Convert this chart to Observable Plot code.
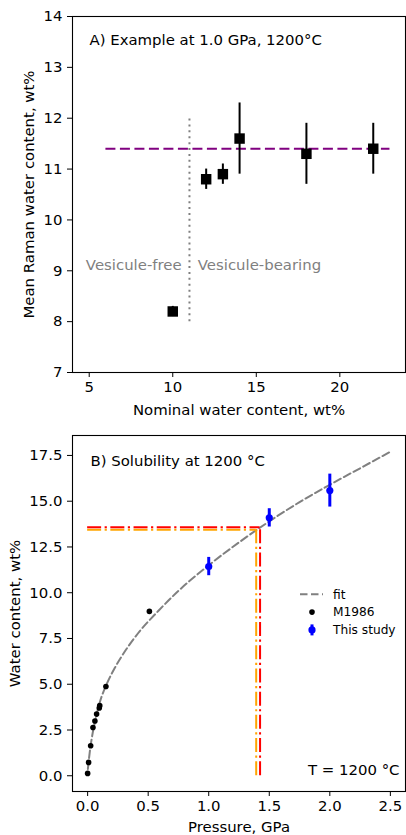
<!DOCTYPE html>
<html><head><meta charset="utf-8">
<script src="https://cdn.jsdelivr.net/npm/d3@7"></script>
<script src="https://cdn.jsdelivr.net/npm/@observablehq/plot@0.6"></script>
<style>
body{margin:0;background:#fff;}
#chart{width:406px;}
#chart svg{display:block;}
</style></head><body><div id="chart"></div>
<script>
// ---------- Panel A data ----------
const nominalWater = [10, 12, 13, 14, 18, 22];
const ramanMean = [8.2, 10.8, 10.9, 11.6, 11.3, 11.4];
const ramanErr = [0.1, 0.2, 0.2, 0.7, 0.6, 0.5];
const meanLevel = [11.4];
const meanLineX = [6, 23];
const boundaryX = [11];
const boundaryY = [8, 12];
const regionLabels = ["Vesicule-free", "Vesicule-bearing"];
const regionLabelX = [4.8, 11.5];
const regionLabelY = [9.1, 9.1];
const xTicksA = [5, 10, 15, 20];
const yTicksA = [7, 8, 9, 10, 11, 12, 13, 14];

// ---------- Panel B data ----------
const m1986P = [0.0, 0.008, 0.025, 0.044, 0.06, 0.074, 0.096, 0.1, 0.151, 0.51];
const m1986W = [0.13, 0.73, 1.64, 2.64, 2.99, 3.37, 3.70, 3.83, 4.88, 8.98];
const studyP = [1.0, 1.5, 2.0];
const studyW = [11.43, 14.09, 15.58];
const studyErr = [0.5, 0.5, 0.9];
const fitP = [0.002, 0.019, 0.038, 0.066, 0.1, 0.157, 0.225, 0.308, 0.418, 0.583, 0.75, 1.0, 1.25, 1.5, 1.75, 2.0, 2.25, 2.5];
const fitW = [0.37, 1.37, 2.2, 3.1, 4.0, 5.0, 5.9, 6.8, 7.8, 9.0, 10.1, 11.5, 12.75, 13.9, 14.95, 15.9, 16.8, 17.7];
const redP = [1.424];
const redW = [13.58];
const orangeP = [1.392];
const orangeW = [13.44];
const xTicksB = [0, 0.5, 1.0, 1.5, 2.0, 2.5];
const yTicksB = [0, 2.5, 5, 7.5, 10, 12.5, 15, 17.5];
const legendLabels = ["fit", "M1986", "This study"];

const FONT = "DejaVu Sans";
const FS = 14.9;
const LEG_FS = 12.2;

const dataA = nominalWater.map((x, i) => ({x, y: ramanMean[i], e: ramanErr[i]}));
const dataM = m1986P.map((p, i) => ({p, w: m1986W[i]}));
const dataS = studyP.map((p, i) => ({p, w: studyW[i], e: studyErr[i]}));
const dataFit = fitP.map((p, i) => ({p, w: fitW[i]}));

const dashDot = "14,3.5,2.2,3.5";
const txt = {fontSize: FS, lineAnchor: "middle", text: d => d};

const plotA = Plot.plot({
  width: 406, height: 420,
  marginTop: 16, marginBottom: 48, marginLeft: 72, marginRight: 1,
  style: {fontFamily: FONT, fontSize: FS + "px", color: "black", background: "white"},
  x: {domain: [4, 23.93]},
  y: {domain: [7, 14]},
  marks: [
    Plot.ruleY(meanLevel, {x1: meanLineX[0], x2: meanLineX[1], stroke: "purple", strokeWidth: 2, strokeDasharray: "10,4.5"}),
    Plot.ruleX(boundaryX, {y1: boundaryY[0], y2: boundaryY[1], stroke: "gray", strokeWidth: 2, strokeDasharray: "2,3.9"}),
    Plot.ruleX(dataA, {x: "x", y1: d => d.y - d.e, y2: d => d.y + d.e, stroke: "black", strokeWidth: 2}),
    Plot.dot(dataA, {x: "x", y: "y", symbol: "square", r: 5.9, fill: "black", stroke: "none"}),
    Plot.text(regionLabels, {...txt, x: (d, i) => regionLabelX[i], y: (d, i) => regionLabelY[i], textAnchor: "start", fill: "gray"}),
    Plot.text(["A) Example at 1.0 GPa, 1200°C"], {...txt, frameAnchor: "top-left", dx: 17, dy: 24, textAnchor: "start"}),
    Plot.axisX({ticks: xTicksA, tickSize: 5, tickPadding: 4, label: null, tickFormat: d => String(d)}),
    Plot.axisY({ticks: yTicksA, tickSize: 5, tickPadding: 5, label: null, tickFormat: d => String(d)}),
    Plot.text(["Nominal water content, wt%"], {...txt, frameAnchor: "bottom", dy: 37.5, textAnchor: "middle"}),
    Plot.text(["Mean Raman water content, wt%"], {...txt, frameAnchor: "left", dx: -43, rotate: -90, textAnchor: "middle"}),
    Plot.frame({stroke: "black", strokeWidth: 1.1})
  ]
});

const plotB = Plot.plot({
  width: 406, height: 415,
  marginTop: 15, marginBottom: 44, marginLeft: 72, marginRight: 1,
  style: {fontFamily: FONT, fontSize: FS + "px", color: "black", background: "white"},
  x: {domain: [-0.125, 2.625]},
  y: {domain: [-0.86, 18.59]},
  marks: [
    Plot.line(dataFit, {x: "p", y: "w", stroke: "gray", strokeWidth: 2, strokeDasharray: "7.5,3.5", curve: "monotone-x"}),
    Plot.ruleY(orangeW, {x1: 0, x2: orangeP[0], stroke: "orange", strokeWidth: 2, strokeDasharray: dashDot}),
    Plot.ruleX(orangeP, {y1: 0, y2: orangeW[0], stroke: "orange", strokeWidth: 2, strokeDasharray: dashDot}),
    Plot.ruleY(redW, {x1: 0, x2: redP[0], stroke: "red", strokeWidth: 2, strokeDasharray: dashDot}),
    Plot.ruleX(redP, {y1: 0, y2: redW[0], stroke: "red", strokeWidth: 2, strokeDasharray: dashDot}),
    Plot.dot(dataM, {x: "p", y: "w", r: 2.8, fill: "black", stroke: "none"}),
    Plot.ruleX(dataS, {x: "p", y1: d => d.w - d.e, y2: d => d.w + d.e, stroke: "blue", strokeWidth: 3}),
    Plot.dot(dataS, {x: "p", y: "w", r: 3.6, fill: "blue", stroke: "none"}),
    Plot.text(["B) Solubility at 1200 °C"], {...txt, frameAnchor: "top-left", dx: 18, dy: 25.4, textAnchor: "start"}),
    Plot.text(["T = 1200 °C"], {...txt, frameAnchor: "bottom-right", dx: -6, dy: -21.3, textAnchor: "end"}),
    Plot.axisX({ticks: xTicksB, tickSize: 5, tickPadding: 4, label: null, tickFormat: d => d.toFixed(1)}),
    Plot.axisY({ticks: yTicksB, tickSize: 5, tickPadding: 5, label: null, tickFormat: d => d.toFixed(1)}),
    Plot.text(["Pressure, GPa"], {...txt, frameAnchor: "bottom", dy: 36, textAnchor: "middle"}),
    Plot.text(["Water content, wt%"], {...txt, frameAnchor: "left", dx: -57, rotate: -90, textAnchor: "middle"}),
    Plot.frame({stroke: "black", strokeWidth: 1.1})
  ]
});

// Legend for panel B (pixel layout inside the plot frame)
const svgB = d3.select(plotB);
const lg = svgB.append("g").attr("font-family", FONT).attr("font-size", LEG_FS).attr("text-anchor", "start");
const legX = 300, legTextX = 333, legY0 = 174.3, legStep = 17.8;
lg.append("line").attr("x1", legX).attr("x2", legX + 23).attr("y1", legY0).attr("y2", legY0)
  .attr("stroke", "gray").attr("stroke-width", 2).attr("stroke-dasharray", "7.5,3.5");
lg.append("circle").attr("cx", legX + 12).attr("cy", legY0 + legStep).attr("r", 2.8).attr("fill", "black");
lg.append("line").attr("x1", legX + 12).attr("x2", legX + 12).attr("y1", legY0 + 2 * legStep - 5.5).attr("y2", legY0 + 2 * legStep + 5.5)
  .attr("stroke", "blue").attr("stroke-width", 3);
lg.append("circle").attr("cx", legX + 12).attr("cy", legY0 + 2 * legStep).attr("r", 3.6).attr("fill", "blue");
legendLabels.forEach((t, i) => {
  lg.append("text").attr("x", legTextX).attr("y", legY0 + i * legStep).attr("dy", "0.35em")
    .attr("text-anchor", "start").attr("fill", "black").text(t);
});

document.getElementById("chart").append(plotA, plotB);
</script>
</body></html>
